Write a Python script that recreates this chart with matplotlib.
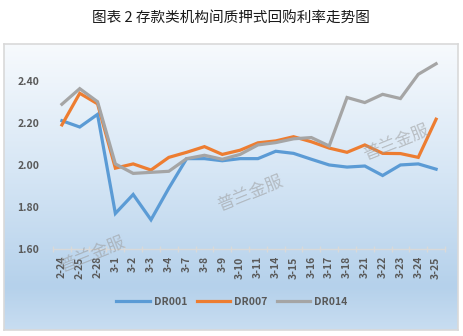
import numpy as np
import matplotlib
matplotlib.use('Agg')
import matplotlib.pyplot as plt
from matplotlib.colors import LinearSegmentedColormap
from matplotlib.lines import Line2D

plt.rcParams['font.family'] = ['Noto Sans CJK SC', 'DejaVu Sans']

# Data
dates = ['2-24', '2-25', '2-28', '3-1', '3-2', '3-3', '3-4', '3-7', '3-8', '3-9', '3-10',
         '3-11', '3-14', '3-15', '3-16', '3-17', '3-18', '3-21', '3-22', '3-23', '3-24', '3-25']
dr001 = [2.21, 2.18, 2.24, 1.77, 1.86, 1.74, 1.89, 2.03, 2.03, 2.02, 2.03,
         2.03, 2.065, 2.055, 2.027, 2.00, 1.99, 1.995, 1.95, 2.00, 2.005, 1.98]
dr007 = [2.19, 2.34, 2.29, 1.985, 2.005, 1.976, 2.036, 2.06, 2.087, 2.05, 2.07,
         2.105, 2.114, 2.134, 2.11, 2.08, 2.06, 2.095, 2.055, 2.054, 2.036, 2.217]
dr014 = [2.288, 2.362, 2.30, 2.005, 1.96, 1.965, 1.97, 2.03, 2.046, 2.027, 2.05,
         2.095, 2.106, 2.124, 2.13, 2.09, 2.32, 2.296, 2.335, 2.315, 2.43, 2.48]
series_names = ['DR001', 'DR007', 'DR014']
series_colors = ['#5b9bd5', '#ed7d31', '#a5a5a5']
yticks = [1.60, 1.80, 2.00, 2.20, 2.40]

W, H = 463, 336
fig = plt.figure(figsize=(W / 100, H / 100), dpi=100)
fig.patch.set_facecolor('white')

# Gradient chart-area background
bg = fig.add_axes([4 / W, 6 / H, 454 / W, 286 / H])
cmap = LinearSegmentedColormap.from_list(
    'bg', [(0.0, '#f7fafd'), (0.45, '#d6e6f5'), (0.85, '#b5d1eb'), (1.0, '#c8ddf1')])
grad = np.linspace(0, 1, 256).reshape(-1, 1)
bg.imshow(grad, aspect='auto', cmap=cmap, extent=[0, 1, 1, 0])
bg.set_xlim(0, 1)
bg.set_ylim(1, 0)
bg.set_xticks([])
bg.set_yticks([])
for s in bg.spines.values():
    s.set_color('#d9d9d9')
    s.set_linewidth(1.2)

# Title
fig.text(231 / W, 1 - 19 / H, '图表 2 存款类机构间质押式回购利率走势图',
         ha='center', va='center', fontsize=10.5, color='#1a1a1a')

# Main plot
ax = fig.add_axes([53 / W, 86.7 / H, 392 / W, 200.3 / H])
ax.patch.set_alpha(0)
x = np.arange(len(dates))
for vals, name, c in zip([dr001, dr007, dr014], series_names, series_colors):
    ax.plot(x, vals, color=c, lw=2.3, label=name, solid_joinstyle='miter', zorder=3)

ax.set_xlim(-0.5, len(dates) - 0.5)
ax.set_ylim(1.60, 2.55)
ax.set_yticks(yticks)
ax.set_yticklabels([f'{v:.2f}' for v in yticks])
ax.set_xticks(x)
ax.set_xticklabels(dates, rotation=90)
ax.set_xticks(np.arange(-0.5, len(dates)), minor=True)
ax.tick_params(axis='y', length=0, pad=10, labelsize=7.5, labelcolor='#595959')
ax.tick_params(axis='x', which='major', length=0, pad=5, labelsize=7.5, labelcolor='#595959')
ax.tick_params(axis='x', which='minor', length=4, direction='inout', color='#d9d9d9', width=1)
for lbl in ax.get_xticklabels() + ax.get_yticklabels():
    lbl.set_fontweight('bold')
for side in ['top', 'right', 'left']:
    ax.spines[side].set_visible(False)
ax.spines['bottom'].set_color('#d9d9d9')
ax.spines['bottom'].set_linewidth(1)

# Legend
handles = [Line2D([0], [0], color=c, lw=2.3) for c in series_colors]
leg = fig.legend(handles, series_names, loc='center', bbox_to_anchor=(232 / W, 1 - 302 / H),
                 ncol=3, frameon=False, handlelength=3.2, columnspacing=0.9,
                 handletextpad=0.4, prop={'size': 7.5, 'weight': 'bold'})
for t in leg.get_texts():
    t.set_color('#595959')

# Watermarks
for cx, cy in [(250, 193), (396, 142), (92, 254)]:
    fig.text(cx / W, 1 - cy / H, '普兰金服', ha='center', va='center', fontsize=12.5,
             color='#9a9a9a', alpha=0.55, rotation=22, zorder=5)

fig.savefig('out.png', dpi=100)
